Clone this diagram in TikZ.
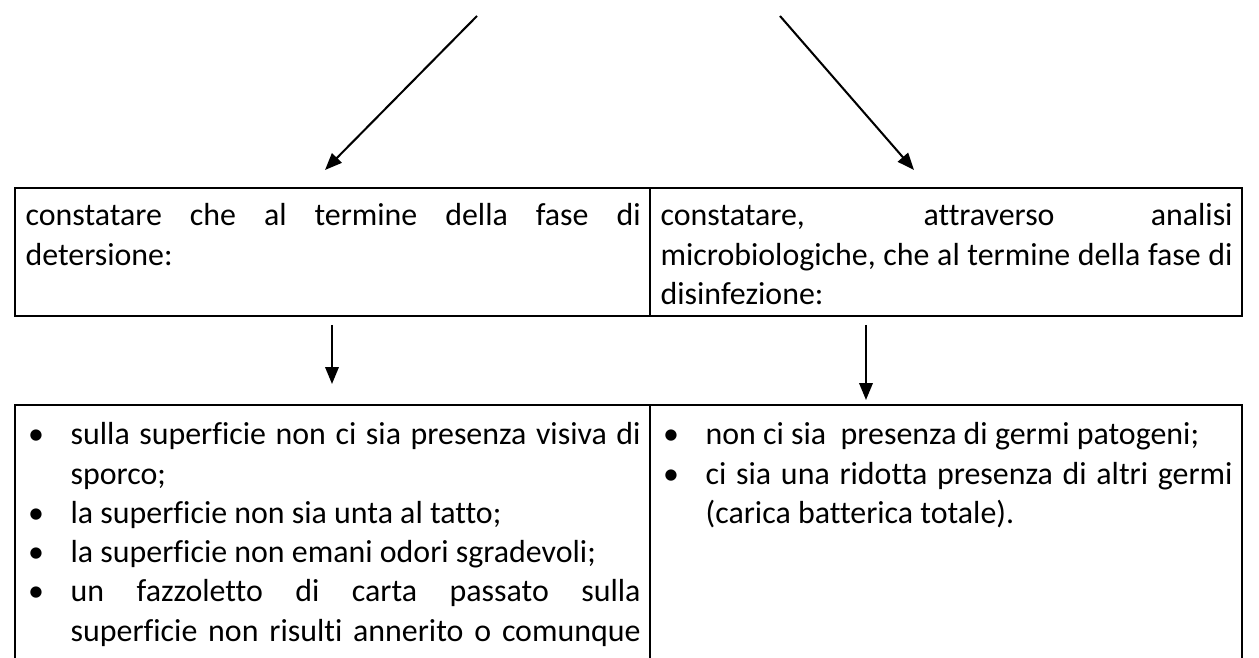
\documentclass[tikz,border=0pt]{standalone}
\usepackage{fontspec}
\setmainfont{Carlito}[Ligatures=NoCommon]
\usetikzlibrary{arrows.meta}
\newcommand{\bulletitem}[1]{\hangindent=15.4pt\hangafter=1\noindent\hbox to 15.4pt{\hskip0.9pt\textbullet\hfil}#1\par}

\tikzset{
	celltext/.style={anchor=base west, inner sep=0pt, align=justify, font=\fontsize{10.9pt}{13.4pt}\selectfont,
		execute at begin node={\tolerance=10000\hbadness=10000\hyphenpenalty=10000\parskip=0pt}},
	flow/.style={line width=0.7pt, -{Triangle[length=5.8pt, width=4.6pt]}},
	tableline/.style={line width=0.6pt}
}

\begin{document}
\begin{tikzpicture}[x=0.3416pt, y=-0.3416pt]
			%%%%% START %%%%%
			\useasboundingbox (0, 0) rectangle (1259, 658);
			\clip (0, 0) rectangle (1259, 658);
			
			% free ends of the connectors
			\coordinate (srcL) at (477, 16);
			\coordinate (tipL) at (325, 170);
			\coordinate (srcR) at (780, 16);
			\coordinate (tipR) at (914, 170);
			\coordinate (detTop) at (332, 325);
			\coordinate (detEnd) at (332, 384);
			\coordinate (disTop) at (866, 325);
			\coordinate (disEnd) at (866, 400);
			
			\draw[flow] (srcL) -- (tipL);
			\draw[flow] (srcR) -- (tipR);
			
			% upper table
			\draw[tableline] (15, 188) rectangle (1242, 316);
			\draw[tableline] (650, 188) -- (650, 316);
			\node[celltext, text width=210.1pt] (detersione) at (25, 226)
				{constatare che al termine della fase di\linebreak detersione:};
			\node[celltext, text width=195.4pt] (disinfezione) at (660, 226)
				{constatare, attraverso analisi\linebreak microbiologiche, che al termine della fase di\linebreak disinfezione:};
			
			\draw[flow] (detTop) -- (detEnd);
			\draw[flow] (disTop) -- (disEnd);
			
			% lower table, cut at the bottom
			\draw[tableline] (15, 660) -- (15, 405) -- (1242, 405) -- (1242, 660);
			\draw[tableline] (650, 405) -- (650, 660);
			\node[celltext, text width=210.1pt] (pulito) at (25, 445) {%
				\bulletitem{sulla superficie non ci sia presenza visiva di\linebreak sporco;}
				\bulletitem{la superficie non sia unta al tatto;}
				\bulletitem{la superficie non emani odori sgradevoli;}
				{\parfillskip=0pt\bulletitem{un fazzoletto di carta passato sulla\linebreak superficie non risulti annerito o comunque}}};
			\node[celltext, text width=195.4pt] (sanificato) at (660, 445) {%
				\bulletitem{non ci sia\ \ presenza di germi patogeni;}
				\bulletitem{ci sia una ridotta presenza di altri germi\linebreak (carica batterica totale).}};
			%%%%% END %%%%%
\end{tikzpicture}
\end{document}
